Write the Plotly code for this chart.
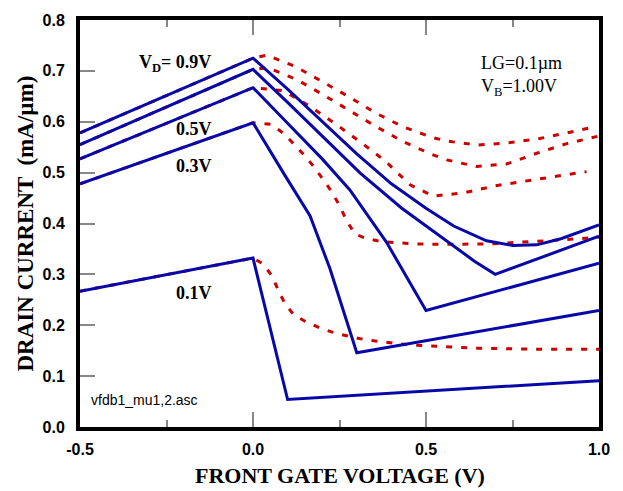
import plotly.graph_objects as go

# ---- data (front gate voltage V, drain current mA/um) ----
# solid (blue) curves
b09_x = [-0.5, 0.0, 0.1, 0.2, 0.3, 0.4, 0.5, 0.58, 0.675, 0.75, 0.82, 0.89, 1.0]
b09_y = [0.578, 0.725, 0.664, 0.600, 0.537, 0.478, 0.430, 0.395, 0.366, 0.357, 0.358, 0.370, 0.397]
b07_x = [-0.5, 0.0, 0.1, 0.2, 0.31, 0.43, 0.54, 0.64, 0.70, 1.0]
b07_y = [0.555, 0.703, 0.638, 0.572, 0.499, 0.430, 0.376, 0.326, 0.300, 0.375]
b05_x = [-0.5, 0.0, 0.1, 0.2, 0.28, 0.386, 0.5, 1.0]
b05_y = [0.527, 0.667, 0.597, 0.527, 0.466, 0.363, 0.229, 0.322]
b03_x = [-0.5, 0.0, 0.09, 0.165, 0.2225, 0.28, 0.30, 1.0]
b03_y = [0.478, 0.598, 0.497, 0.415, 0.311, 0.188, 0.146, 0.229]
b01_x = [-0.5, 0.0, 0.1, 1.0]
b01_y = [0.267, 0.332, 0.054, 0.091]

# dashed (red) curves
r09_x = [-0.5, 0.0, 0.04, 0.124, 0.2, 0.28, 0.355, 0.434, 0.519, 0.56, 0.65, 0.743, 0.829, 0.921, 0.975]
r09_y = [0.578, 0.725, 0.731, 0.708, 0.679, 0.648, 0.617, 0.590, 0.569, 0.562, 0.554, 0.559, 0.567, 0.580, 0.588]
r07_x = [-0.5, 0.0, 0.044, 0.126, 0.203, 0.28, 0.357, 0.434, 0.516, 0.56, 0.646, 0.733, 0.82, 0.907, 1.0]
r07_y = [0.555, 0.703, 0.706, 0.683, 0.653, 0.622, 0.590, 0.561, 0.536, 0.525, 0.512, 0.517, 0.538, 0.557, 0.572]
r05_x = [-0.5, 0.0, 0.088, 0.165, 0.24, 0.311, 0.382, 0.454, 0.521, 0.608, 0.699, 0.786, 0.878, 0.964]
r05_y = [0.527, 0.667, 0.661, 0.630, 0.595, 0.560, 0.523, 0.476, 0.454, 0.460, 0.474, 0.483, 0.492, 0.502]
r03_x = [-0.5, 0.0, 0.054, 0.088, 0.117, 0.15, 0.179, 0.203, 0.227, 0.251, 0.271, 0.295, 0.329,
         0.377, 0.463, 0.55, 0.685, 0.849, 0.955, 1.0]
r03_y = [0.478, 0.598, 0.595, 0.577, 0.557, 0.533, 0.509, 0.486, 0.463, 0.434, 0.405, 0.379, 0.370,
         0.364, 0.360, 0.359, 0.360, 0.366, 0.371, 0.373]
r01_x = [-0.5, 0.0, 0.028, 0.054, 0.073, 0.092, 0.117, 0.155, 0.199, 0.242, 0.285, 0.329, 0.377,
         0.463, 0.647, 0.82, 1.0]
r01_y = [0.267, 0.332, 0.321, 0.298, 0.269, 0.243, 0.221, 0.206, 0.193, 0.184, 0.177, 0.171, 0.167,
         0.161, 0.155, 0.153, 0.153]

x_ticks = [-0.5, 0.0, 0.5, 1.0]
x_tick_text = ["-0.5", "0.0", "0.5", "1.0"]
x_minor_ticks = [-0.25, 0.25, 0.75]
y_ticks = [0.0, 0.1, 0.2, 0.3, 0.4, 0.5, 0.6, 0.7, 0.8]
y_tick_text = ["0.0", "0.1", "0.2", "0.3", "0.4", "0.5", "0.6", "0.7", "0.8"]

X_RANGE = [-0.5, 1.0]
Y_RANGE = [0.0, 0.8]

BLUE = "#0808a8"
RED = "#cc0000"
TICK_COLOR = "#888888"

fig = go.Figure()
for xs, ys in [(r09_x, r09_y), (r07_x, r07_y), (r05_x, r05_y), (r03_x, r03_y), (r01_x, r01_y)]:
    fig.add_trace(go.Scatter(x=xs, y=ys, mode="lines",
                             line=dict(color=RED, width=3, dash="6px,9px"),
                             showlegend=False, hoverinfo="skip"))
for xs, ys in [(b09_x, b09_y), (b07_x, b07_y), (b05_x, b05_y), (b03_x, b03_y), (b01_x, b01_y)]:
    fig.add_trace(go.Scatter(x=xs, y=ys, mode="lines",
                             line=dict(color=BLUE, width=3),
                             showlegend=False, hoverinfo="skip"))

serif = "Liberation Serif"
sans = "Liberation Sans"

ann = []
def label(text, x, y, size=18, bold=True, xanchor="center", family=serif):
    ann.append(dict(text=("<b>%s</b>" % text) if bold else text, x=x, y=y,
                    xref="x", yref="y", showarrow=False,
                    xanchor=xanchor, yanchor="middle",
                    font=dict(family=family, size=size, color="black")))

label("V<sub>D</sub>= 0.9V", -0.226, 0.715)
label("0.5V", -0.17, 0.586)
label("0.3V", -0.17, 0.514)
label("0.1V", -0.17, 0.264)
label("LG=0.1µm", 0.652, 0.716, size=18, bold=False, xanchor="left")
label("V<sub>B</sub>=1.00V", 0.652, 0.667, size=18, bold=False, xanchor="left")
label("vfdb1_mu1,2.asc", -0.474, 0.054, size=14, bold=False, xanchor="left", family=sans)

ann.append(dict(text="<b>FRONT GATE VOLTAGE (V)</b>", x=0.5, y=0, xref="paper", yref="paper",
                xanchor="center", yanchor="middle", yshift=-48, showarrow=False,
                font=dict(family=serif, size=22, color="black")))
ann.append(dict(text="<b>DRAIN CURRENT  (mA/µm)</b>", x=0, y=0.5, xref="paper", yref="paper",
                xanchor="center", yanchor="middle", xshift=-55, textangle=-90, showarrow=False,
                font=dict(family=serif, size=23, color="black")))

tickfont = dict(family=sans, size=16, color="black")

fig.update_layout(
    width=623, height=491,
    margin=dict(l=80, r=24, t=15, b=64),
    paper_bgcolor="white", plot_bgcolor="white",
    annotations=ann,
    xaxis=dict(range=X_RANGE, tickmode="array", tickvals=x_ticks,
               ticktext=["<b>%s</b>" % t for t in x_tick_text],
               ticks="inside", ticklen=15, tickwidth=1.5, tickcolor=TICK_COLOR,
               minor=dict(tickmode="array", tickvals=x_minor_ticks, ticks="inside",
                          ticklen=7, tickwidth=1.5, tickcolor=TICK_COLOR, showgrid=False),
               showline=True, linewidth=4, linecolor="black", mirror="ticks",
               showgrid=False, zeroline=False, tickfont=tickfont, ticklabelstandoff=5),
    yaxis=dict(range=Y_RANGE, tickmode="array", tickvals=y_ticks,
               ticktext=["<b>%s</b>" % t for t in y_tick_text],
               ticks="inside", ticklen=15, tickwidth=1.5, tickcolor=TICK_COLOR,
               showline=True, linewidth=4, linecolor="black", mirror=True,
               showgrid=False, zeroline=False, tickfont=tickfont, ticklabelstandoff=8),
)

fig.write_html("out.html")
